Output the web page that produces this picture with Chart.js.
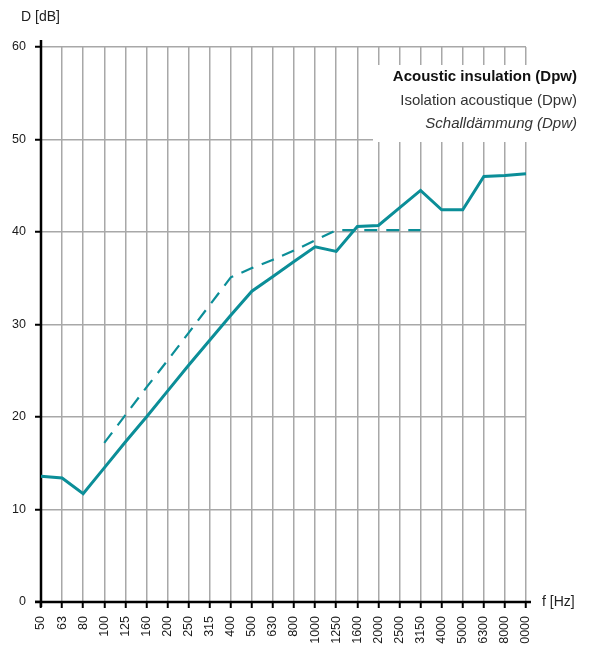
<!DOCTYPE html>
<html>
<head>
<meta charset="utf-8">
<script src="https://cdn.jsdelivr.net/npm/chart.js@4.4.1/dist/chart.umd.min.js"></script>
<style>
  html, body { margin: 0; padding: 0; background: #fff; overflow: hidden; }
</style>
</head>
<body>
<canvas id="dpwChart" width="589" height="644"></canvas>
<script>
"use strict";

// third-octave bands, Hz
const frequencies = ["50", "63", "80", "100", "125", "160", "200", "250", "315", "400", "500", "630",
    "800", "1000", "1250", "1600", "2000", "2500", "3150", "4000", "5000", "6300", "8000", "10000"];

// measured insulation curve, dB
const dpwMeasured = [13.6, 13.4, 11.7, 14.5, 17.3, 20.0, 22.8, 25.6, 28.3, 31.0, 33.6, 35.2,
    36.8, 38.4, 37.9, 40.6, 40.7, 42.6, 44.5, 42.4, 42.4, 46.0, 46.1, 46.3];

// reference curve (dashed), only 100 - 3150 Hz
const dpwReference = [null, null, null, 17.2, 20.2, 23.2, 26.1, 29.1, 32.1, 35.1, 36.1, 37.0,
    38.0, 39.1, 40.2, 40.2, 40.2, 40.2, 40.2, null, null, null, null, null];

const yTicks = [0, 10, 20, 30, 40, 50, 60];

const legendLines = [
    { text: "Acoustic insulation (Dpw)", style: "bold" },
    { text: "Isolation acoustique (Dpw)", style: "normal" },
    { text: "Schalldämmung (Dpw)", style: "italic" },
];

const FONT = "'Liberation Sans', Arial, Helvetica, sans-serif";
const TEAL = "#0b8e98";
const GRID = "#a8a8a8";

// axes, axis titles and the white legend box
const decorations = {
    id: "decorations",
    beforeDatasetsDraw(chart) {
        const ctx = chart.ctx;
        const area = chart.chartArea;
        ctx.save();

        // legend box sits over the grid
        ctx.fillStyle = "#fff";
        ctx.fillRect(373, 65, 216, 77);
        ctx.textAlign = "right";
        ctx.textBaseline = "middle";
        for (let i = 0; i < legendLines.length; i++) {
            let line = legendLines[i];
            let weight = line.style === "bold" ? "bold " : "";
            let slant = line.style === "italic" ? "italic " : "";
            ctx.font = slant + weight + "15px " + FONT;
            ctx.fillStyle = i === 0 ? "#111" : "#333";
            ctx.fillText(line.text, 577, 77 + i * 23.5);
        }

        // axis lines
        ctx.strokeStyle = "#000";
        ctx.lineWidth = 2.5;
        ctx.beginPath();
        ctx.moveTo(area.left, area.top - 7);
        ctx.lineTo(area.left, area.bottom + 5);
        ctx.moveTo(area.left - 6, area.bottom);
        ctx.lineTo(area.right + 5, area.bottom);
        ctx.stroke();

        // axis titles
        ctx.fillStyle = "#222";
        ctx.font = "14px " + FONT;
        ctx.textAlign = "left";
        ctx.fillText("D [dB]", 21, 17);
        ctx.fillText("f [Hz]", area.right + 16, area.bottom);
        ctx.restore();
    },
};

const data = {
    labels: frequencies,
    datasets: [
        {
            label: "Dpw",
            data: dpwMeasured,
            borderColor: TEAL,
            borderWidth: 3,
            pointRadius: 0,
            tension: 0,
            borderJoinStyle: "miter",
        },
        {
            label: "Dpw ref",
            data: dpwReference,
            borderColor: TEAL,
            borderWidth: 2.2,
            borderDash: [13, 9],
            pointRadius: 0,
            tension: 0,
            spanGaps: false,
        },
    ],
};

const config = {
    type: "line",
    data: data,
    options: {
        responsive: false,
        animation: false,
        events: [],
        layout: { padding: { top: 47, right: 63, left: 0, bottom: 0 } },
        plugins: {
            legend: { display: false },
            tooltip: { enabled: false },
        },
        scales: {
            x: {
                type: "category",
                offset: false,
                border: { display: false },
                grid: {
                    color: GRID,
                    lineWidth: 1.5,
                    tickColor: "#000",
                    tickWidth: 2,
                    tickLength: 6,
                },
                ticks: {
                    autoSkip: false,
                    minRotation: 90,
                    maxRotation: 90,
                    padding: 8,
                    color: "#1a1a1a",
                    font: { family: FONT, size: 12.5 },
                },
                afterFit(scale) {
                    scale.height = 42;
                },
            },
            y: {
                min: 0,
                max: 60,
                border: { display: false },
                afterBuildTicks(scale) {
                    scale.ticks = yTicks.map((v) => ({ value: v }));
                },
                grid: {
                    color: GRID,
                    lineWidth: 1.5,
                    tickColor: "#000",
                    tickWidth: 2,
                    tickLength: 6,
                },
                ticks: {
                    padding: 9,
                    color: "#1a1a1a",
                    font: { family: FONT, size: 12.5 },
                },
                afterFit(scale) {
                    scale.width = 41;
                },
            },
        },
    },
    plugins: [decorations],
};

new Chart(document.getElementById("dpwChart"), config);
</script>
</body>
</html>
